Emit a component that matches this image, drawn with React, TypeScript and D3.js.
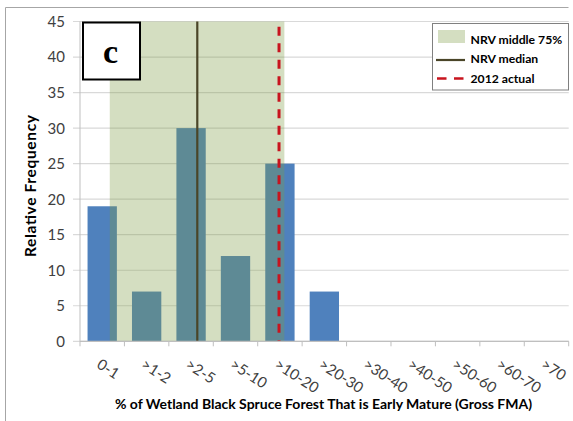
import React from "react";
import * as d3 from "d3";

const categories = ["0-1", ">1-2", ">2-5", ">5-10", ">10-20", ">20-30", ">30-40", ">40-50", ">50-60", ">60-70", ">70"];
const frequencies = [19, 7, 30, 12, 25, 7, 0, 0, 0, 0, 0];
const yTicks = [0, 5, 10, 15, 20, 25, 30, 35, 40, 45];
// positions in category units (0 = left edge of first category)
const nrvLow = 0.67;
const nrvHigh = 4.6;
const nrvMedian = 2.64;
const actual2012 = 4.48;
const legendItems = ["NRV middle 75%", "NRV median", "2012 actual"];

const W = 573;
const H = 421;
const left = 80;
const right = 568.7;
const top = 21.5;
const bottom = 341.3;
const FONT = "Lato, 'Open Sans', sans-serif";

export default function App() {
  const x = d3.scaleBand<string>().domain(categories).range([left, right]).paddingInner(0.34).paddingOuter(0.17);
  const xc = d3.scaleLinear().domain([0, categories.length]).range([left, right]);
  const y = d3.scaleLinear().domain([0, 45]).range([bottom, top]);
  const step = (right - left) / categories.length;

  return (
    <svg width={W} height={H} style={{ position: "absolute", left: 0, top: 0, background: "#fff" }}>
      {/* outer frame */}
      <path d={`M5.5,${H} L5.5,7.5 L568.5,7.5`} fill="none" stroke="#a6a6a6" strokeWidth={1} />
      {/* gridlines */}
      {yTicks.map((t) => (
        <line key={t} x1={73} x2={right} y1={y(t)} y2={y(t)} stroke="#d9d9d9" strokeWidth={1.2} />
      ))}
      {/* bars */}
      {categories.map((c, i) =>
        frequencies[i] > 0 ? (
          <rect key={c} x={x(c)} width={x.bandwidth()} y={y(frequencies[i])} height={y(0) - y(frequencies[i])} fill="#4f81bd" />
        ) : null
      )}
      {/* NRV middle 75% */}
      <rect x={xc(nrvLow)} width={xc(nrvHigh) - xc(nrvLow)} y={y(45)} height={y(0) - y(45)} fill="rgb(127,156,70)" fillOpacity={0.335} />
      {/* median */}
      <line x1={xc(nrvMedian)} x2={xc(nrvMedian)} y1={y(45)} y2={y(0)} stroke="#4a4528" strokeWidth={2.2} />
      {/* 2012 actual */}
      <line x1={xc(actual2012)} x2={xc(actual2012)} y1={y(45)} y2={y(0)} stroke="#c8141e" strokeWidth={3} strokeDasharray="9,7.5" strokeDashoffset={11.3} />
      {/* axes */}
      <line x1={left} x2={left} y1={top} y2={bottom} stroke="#bfbfbf" strokeWidth={1} />
      <line x1={left} x2={right} y1={bottom} y2={bottom} stroke="#bfbfbf" strokeWidth={1.2} />
      {d3.range(categories.length + 1).map((i) => (
        <line key={i} x1={xc(i)} x2={xc(i)} y1={bottom} y2={bottom + 5} stroke="#bfbfbf" strokeWidth={1} />
      ))}
      {yTicks.map((t) => (
        <text key={t} x={65} y={y(t)} dy="0.36em" textAnchor="end" fontFamily={FONT} fontSize={15} fill="#404040">
          {t}
        </text>
      ))}
      {categories.map((c, i) => (
        <text
          key={c}
          transform={`translate(${xc(i) + step / 2},${357}) rotate(33)`}
          dy="0.8em"
          textAnchor="start"
          fontFamily={FONT}
          fontSize={15}
          fill="#404040"
        >
          {c}
        </text>
      ))}
      {/* axis titles */}
      <text transform={`translate(36,186) rotate(-90)`} textAnchor="middle" fontFamily={FONT} fontWeight="bold" fontSize={15.5} textLength={142} fill="#000">
        Relative Frequency
      </text>
      <text x={323.5} y={409} textAnchor="middle" fontFamily={FONT} fontWeight="bold" fontSize={14} textLength={417} fill="#000">
        % of Wetland Black Spruce Forest That is Early Mature (Gross FMA)
      </text>
      {/* panel label */}
      <rect x={83} y={22.5} width={57} height={57} fill="#fff" stroke="#000" strokeWidth={2} />
      <text x={110.5} y={63} textAnchor="middle" fontFamily="'Liberation Serif', 'Times New Roman', serif" fontWeight="bold" fontSize={34}>
        c
      </text>
      {/* legend */}
      <rect x={432.5} y={23.5} width={136} height={66.5} fill="#fff" stroke="#808080" strokeWidth={1} />
      <rect x={438} y={30} width={27} height={13} fill="rgb(127,156,70)" fillOpacity={0.335} />
      <line x1={436} x2={465} y1={60} y2={60} stroke="#4a4528" strokeWidth={2.2} />
      <line x1={437} x2={465} y1={78.5} y2={78.5} stroke="#c8141e" strokeWidth={2.5} strokeDasharray="9.5,7.5" />
      {legendItems.map((t, i) => (
        <text key={t} x={470.5} y={39.5 + i * 19.5} dy="0.36em" fontFamily={FONT} fontWeight="bold" fontSize={12.2} fill="#000">
          {t}
        </text>
      ))}
    </svg>
  );
}
